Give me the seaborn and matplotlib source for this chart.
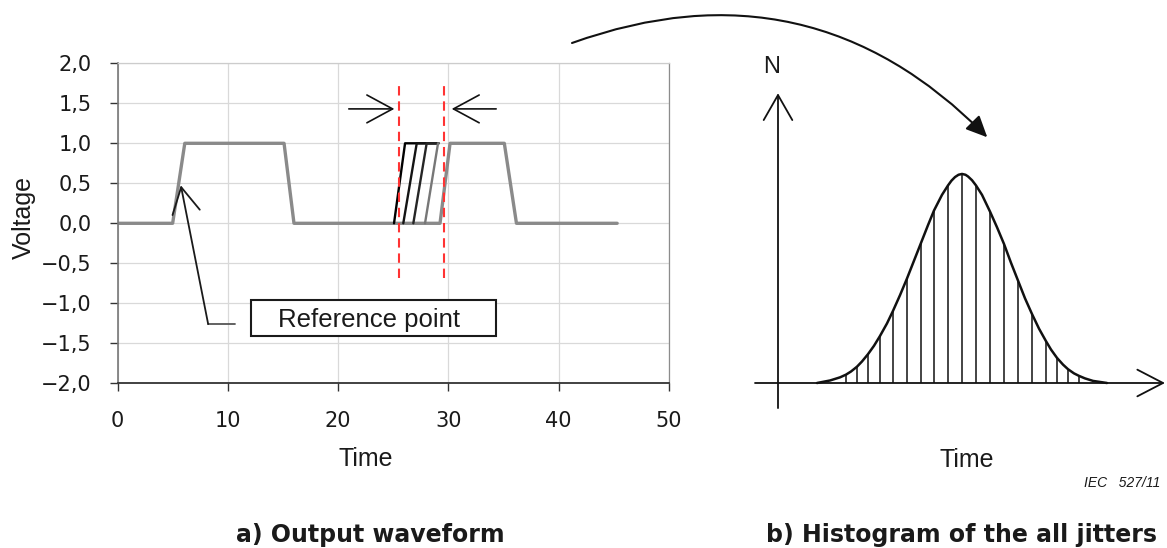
import numpy as np
import pandas as pd
import seaborn as sns
import matplotlib.pyplot as plt
from matplotlib.patches import Rectangle, FancyArrowPatch

# a) output waveform: reference pulse train (time, voltage)
main_t = [0, 5.0, 6.1, 15.1, 16.0, 29.24, 30.15, 35.07, 36.17, 45.3]
main_v = [0, 0, 1, 1, 0, 0, 1, 1, 0, 0]

# jittered rising edges (start at 0 V, reach 1 V, run on the top)
edge_start = [25.07, 25.91, 26.82, 27.88]
edge_top = [26.07, 27.13, 28.03, 29.06]
edge_end = 29.1
edge_colors = ['#000000', '#141414', '#262626', '#777777']

# red jitter window
window_t = [25.5, 29.6]
window_v = [-0.68, 1.72]

xticks = [0, 10, 20, 30, 40, 50]
yticks = [-2.0, -1.5, -1.0, -0.5, 0.0, 0.5, 1.0, 1.5, 2.0]
ytick_labels = ['\u22122,0', '\u22121,5', '\u22121,0', '\u22120,5', '0,0',
                '0,5', '1,0', '1,5', '2,0']

# b) histogram of all jitters (time, relative count)
bin_t = [6.8, 7.9, 9.0, 10.2, 11.5, 12.9, 14.3, 15.6, 17.0, 18.4,
         19.8, 21.2, 22.6, 24.0, 25.4, 26.8, 27.9, 29.0, 30.1]
bin_n = [0.04, 0.078, 0.138, 0.225, 0.345, 0.50, 0.67, 0.825, 0.945, 1.0,
         0.945, 0.82, 0.665, 0.49, 0.33, 0.20, 0.12, 0.066, 0.034]
curve_t = [3.9, 5.2, 6.2, 6.8, 7.3, 7.9, 8.4, 9.0, 9.6, 10.2, 10.9, 11.5,
           12.2, 12.9, 13.6, 14.3, 15.0, 15.6, 16.4, 17.0, 17.35, 17.7,
           18.05, 18.4, 18.75, 19.0, 19.4, 19.8, 20.4, 21.2, 21.9, 22.6,
           23.3, 24.0, 24.7, 25.4, 26.1, 26.8, 27.3, 27.9, 28.5, 29.0,
           29.6, 30.1, 30.7, 31.5, 32.9]
curve_n = [0.0, 0.012, 0.027, 0.04, 0.055, 0.078, 0.103, 0.138, 0.178,
           0.225, 0.285, 0.345, 0.42, 0.50, 0.585, 0.67, 0.755, 0.825,
           0.90, 0.945, 0.968, 0.985, 0.996, 1.0, 0.996, 0.988, 0.97,
           0.945, 0.90, 0.82, 0.745, 0.665, 0.575, 0.49, 0.405, 0.33,
           0.26, 0.20, 0.16, 0.12, 0.088, 0.066, 0.046, 0.034, 0.022,
           0.01, 0.0]

sns.set_style('white')
plt.rcParams['font.family'] = ['Liberation Sans', 'DejaVu Sans']

W, H = 1167, 548
fig = plt.figure(figsize=(W / 100, H / 100), dpi=100)


def fx(px):
    return px / W


def fy(py):
    return (H - py) / H


# ---------- left panel ----------
ax1 = fig.add_axes([fx(117.5), fy(383.3), fx(669 - 117.5), (383.3 - 63.3) / H])

wave = pd.DataFrame({'time': main_t, 'voltage': main_v})
sns.lineplot(data=wave, x='time', y='voltage', color='#8a8a8a', lw=2.4,
             sort=False, estimator=None, ax=ax1)

rows = []
for i, (s, t) in enumerate(zip(edge_start, edge_top)):
    for x, v in zip([s, t, edge_end], [0, 1, 1]):
        rows.append({'series': f'edge{i}', 'time': x, 'voltage': v})
edges = pd.DataFrame(rows)
sns.lineplot(data=edges, x='time', y='voltage', hue='series',
             palette=dict(zip([f'edge{i}' for i in range(4)], edge_colors)),
             lw=1.7, sort=False, estimator=None, legend=False, ax=ax1)

for t in window_t:
    ax1.plot([t, t], window_v, color='#ff3333', lw=1.5, dashes=(4.5, 2.8))

head = 'head_length=1.85,head_width=1.0'
ax1.annotate('', xy=(25.1, 1.43), xytext=(20.97, 1.43),
             arrowprops=dict(arrowstyle='->,' + head, lw=1.2, color='#111111',
                             shrinkA=0, shrinkB=0, mutation_scale=10))
ax1.annotate('', xy=(30.3, 1.43), xytext=(34.33, 1.43),
             arrowprops=dict(arrowstyle='->,' + head, lw=1.2, color='#111111',
                             shrinkA=0, shrinkB=0, mutation_scale=10))

# reference point callout
ax1.plot([8.22, 10.67], [-1.26, -1.26], color='#555555', lw=1.3)
ax1.annotate('', xy=(5.74, 0.475), xytext=(8.22, -1.26),
             arrowprops=dict(arrowstyle='->,' + head, lw=1.3, color='#1a1a1a',
                             shrinkA=0, shrinkB=0, mutation_scale=10))
ax1.add_patch(Rectangle((12.1, -1.41), 34.3 - 12.1, 1.41 - 0.954,
                        fill=True, facecolor='white', edgecolor='#1a1a1a',
                        lw=1.5, zorder=4))
ax1.text(22.8, -1.29, 'Reference point', ha='center', va='baseline',
         fontsize=18.5, color='#1a1a1a', zorder=5)

ax1.set_xlim(0, 50)
ax1.set_ylim(-2, 2)
ax1.set_xticks(xticks)
ax1.set_yticks(yticks)
ax1.set_yticklabels(ytick_labels)
ax1.set_xlabel('')
ax1.set_ylabel('')
ax1.grid(True, color='#d9d9d9', lw=0.9)
ax1.set_axisbelow(True)
ax1.tick_params(axis='both', direction='out', length=5.8, width=1.0,
                color='#333333', labelsize=15, labelcolor='#1a1a1a',
                bottom=True, left=True)
ax1.tick_params(axis='y', pad=13)
ax1.tick_params(axis='x', pad=14)
for lab in ax1.get_xticklabels() + ax1.get_yticklabels():
    lab.set_family('DejaVu Sans')
ax1.spines['left'].set_color('#777777')
ax1.spines['left'].set_linewidth(1.2)
ax1.spines['bottom'].set_color('#333333')
ax1.spines['bottom'].set_linewidth(1.3)
ax1.spines['right'].set_color('#8c8c8c')
ax1.spines['right'].set_linewidth(0.9)
ax1.spines['top'].set_color('#cccccc')
ax1.spines['top'].set_linewidth(0.9)

fig.text(fx(23.5), fy(217.5), 'Voltage', rotation=90, ha='center',
         va='center', fontsize=18, color='#1a1a1a')
fig.text(fx(366), fy(459), 'Time', ha='center', va='center', fontsize=18,
         color='#1a1a1a')

# ---------- right panel ----------
ax2 = fig.add_axes([fx(740), fy(420), fx(427), 360 / H])
ax2.set_xlim(-3.8, 38.9)
ax2.set_ylim(-0.177, 1.545)
ax2.axis('off')

ax2.vlines(bin_t, 0, bin_n, color='#111111', lw=1.1)
sns.lineplot(x=curve_t, y=curve_n, color='#111111', lw=1.8, sort=False,
             estimator=None, ax=ax2)

ax2.annotate('', xy=(0, 1.386), xytext=(0, -0.12),
             arrowprops=dict(arrowstyle='->,head_length=1.8,head_width=1.03',
                             lw=1.3, color='#111111', shrinkA=0, shrinkB=0,
                             mutation_scale=10))
ax2.annotate('', xy=(38.7, 0), xytext=(-2.3, 0),
             arrowprops=dict(arrowstyle='->,head_length=1.85,head_width=0.96',
                             lw=1.3, color='#111111', shrinkA=0, shrinkB=0,
                             mutation_scale=10))

fig.text(fx(772), fy(67), 'N', ha='center', va='center', fontsize=17,
         color='#1a1a1a')
fig.text(fx(966.7), fy(460), 'Time', ha='center', va='center', fontsize=18,
         color='#1a1a1a')
fig.text(fx(1160), fy(483), 'IEC   527/11', ha='right', va='center',
         fontsize=10, style='italic', color='#1a1a1a')

# curved arrow linking the panels
fig.patches.append(FancyArrowPatch(
    (fx(572), fy(43)), (fx(987.3), fy(137.3)), transform=fig.transFigure,
    connectionstyle='arc3,rad=-0.32',
    arrowstyle='-|>,head_length=1.3,head_width=0.6', mutation_scale=10,
    lw=1.5, color='#111111', shrinkA=0, shrinkB=0))

# panel captions
fig.text(fx(370), fy(541.7), 'a) Output waveform', ha='center',
         va='baseline', fontsize=17, fontweight='bold',
         family='DejaVu Sans', color='#1a1a1a')
fig.text(fx(962), fy(541.7), 'b) Histogram of the all jitters', ha='center',
         va='baseline', fontsize=17, fontweight='bold',
         family='DejaVu Sans', color='#1a1a1a')

fig.savefig('out.png', dpi=100)
